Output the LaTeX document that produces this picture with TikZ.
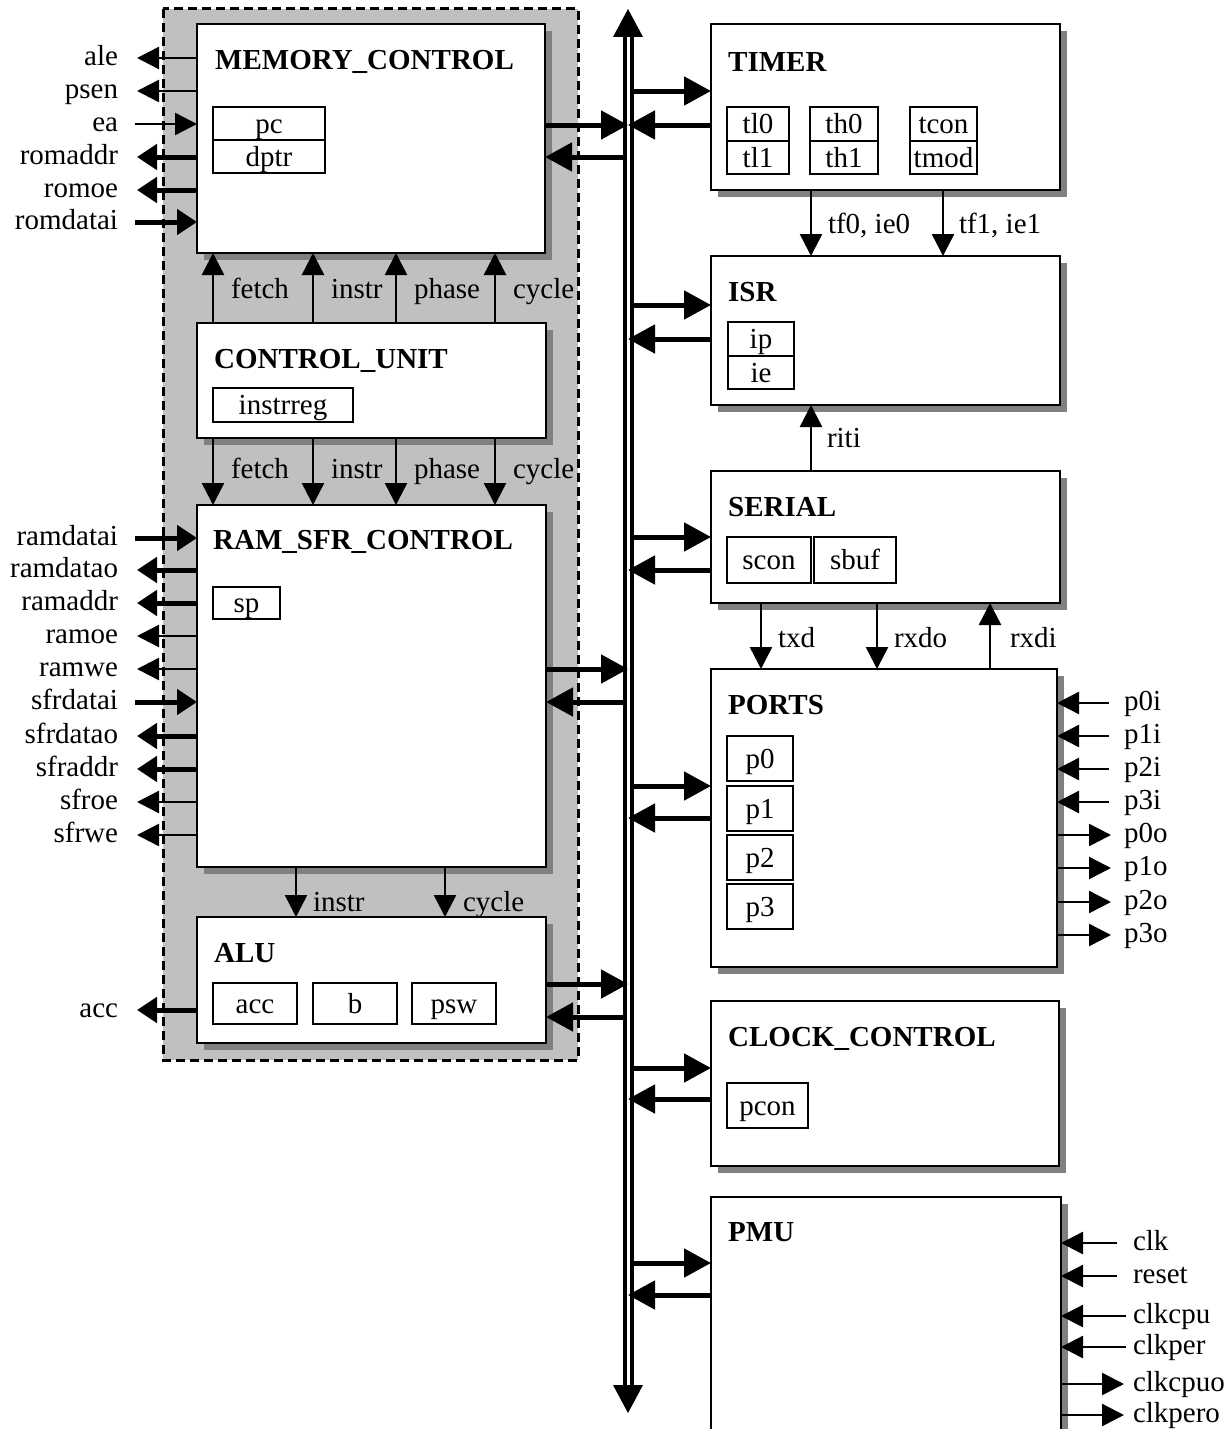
\documentclass[tikz,border=0pt]{standalone}
\usepackage{fontspec}
\setmainfont{Liberation Serif}
\usetikzlibrary{arrows.meta}
\definecolor{contgray}{HTML}{C0C0C0}
\definecolor{shadgray}{HTML}{808080}
\tikzset{
  blk/.style={draw, fill=white, line width=2.5pt, inner sep=0pt, outer sep=0pt, anchor=north west},
  regbox/.style={draw, fill=white, line width=2pt, inner sep=0pt, outer sep=0pt, anchor=north west,
     text height=22pt, text depth=3pt, font=\fontsize{29}{34}\selectfont},
  ttl/.style={anchor=base west, inner sep=0pt, font=\fontsize{29}{34}\selectfont\bfseries},
  lbl/.style={inner sep=0pt, outer sep=0pt, text height=19pt, text depth=4pt, font=\fontsize{29}{34}\selectfont},
  sigthin/.style={line width=2.5pt, -{Triangle[length=22pt,width=22pt]}},
  sigthick/.style={line width=5pt, -{Triangle[length=20pt,width=25pt]}},
  busarr/.style={line width=5pt, -{Triangle[length=27pt,width=28pt]}},
}
\newcommand\mkblk[5]{%
  \fill[shadgray] (#2+7,#3+7) rectangle (#4+7,#5+7);
  \node[blk, minimum width={(#4-#2)*1pt}, minimum height={(#5-#3)*1pt}] (#1) at (#2,#3) {};}
\newcommand\mkreg[6]{%
  \node[regbox, minimum width={#4*1pt}, minimum height={#5*1pt}] (#1) at (#2,#3) {#6};}
\begin{document}
\begin{tikzpicture}[x=1pt,y=-1pt]
\path[use as bounding box] (0,0) rectangle (1231,1429);
\clip (0,0) rectangle (1231,1429);
\fill[white] (0,0) rectangle (1231,1429);

% container
\fill[contgray] (163,9) rectangle (578,1060);
\draw[line width=3pt, dash pattern=on 9pt off 5pt] (163,9) rectangle (578,1060);

% blocks
\mkblk{mem}{197}{24}{545}{253}
\mkblk{cu}{197}{323}{546}{438}
\mkblk{ram}{197}{505}{546}{867}
\mkblk{alu}{197}{917}{546}{1043}
\mkblk{timer}{711}{24}{1060}{190}
\mkblk{isr}{711}{256}{1060}{405}
\mkblk{serial}{711}{471}{1060}{603}
\mkblk{ports}{711}{669}{1057}{967}
\mkblk{clock}{711}{1001}{1059}{1166}
\mkblk{pmu}{711}{1197}{1061}{1460}

% titles
\node[ttl] (t-mem) at (215,70) {MEMORY\_CONTROL};
\node[ttl] (t-cu) at (214,368) {CONTROL\_UNIT};
\node[ttl] (t-ram) at (213,549) {RAM\_SFR\_CONTROL};
\node[ttl] (t-alu) at (214,962) {ALU};
\node[ttl] (t-timer) at (728,71) {TIMER};
\node[ttl] (t-isr) at (728,301) {ISR};
\node[ttl] (t-serial) at (728,516) {SERIAL};
\node[ttl] (t-ports) at (728,714) {PORTS};
\node[ttl] (t-clock) at (728,1046) {CLOCK\_CONTROL};
\node[ttl] (t-pmu) at (728,1241) {PMU};

% registers
\mkreg{pc}{213}{107}{112}{33}{pc}
\mkreg{dptr}{213}{140}{112}{33}{dptr}
\mkreg{instrreg}{213}{388}{140}{34}{instrreg}
\mkreg{sp}{213}{587}{67}{32}{sp}
\mkreg{acc}{213}{983}{84}{41}{acc}
\mkreg{b}{313}{983}{84}{41}{b}
\mkreg{psw}{412}{983}{84}{41}{psw}
\mkreg{tl0}{727}{107}{62}{34}{tl0}
\mkreg{tl1}{727}{141}{62}{33}{tl1}
\mkreg{th0}{810}{107}{68}{34}{th0}
\mkreg{th1}{810}{141}{68}{33}{th1}
\mkreg{tcon}{910}{107}{67}{34}{tcon}
\mkreg{tmod}{910}{141}{67}{33}{tmod}
\mkreg{ip}{728}{322}{66}{34}{ip}
\mkreg{ie}{728}{356}{66}{33}{ie}
\mkreg{scon}{727}{537}{84}{46}{scon}
\mkreg{sbuf}{814}{537}{82}{46}{sbuf}
\mkreg{p0}{727}{736}{66}{45}{p0}
\mkreg{p1}{727}{786}{66}{45}{p1}
\mkreg{p2}{727}{835}{66}{45}{p2}
\mkreg{p3}{727}{884}{66}{45}{p3}
\mkreg{pcon}{727}{1083}{81}{45}{pcon}

% bus
\coordinate (bus) at (628,0);
\coordinate (busL) at (624.5,0);
\coordinate (busR) at (631.5,0);
\coordinate (busT) at (628,9);
\coordinate (busB) at (628,1413);
\draw[line width=4pt] (624.5,36) -- (624.5,1387);
\draw[line width=4pt] (631.5,36) -- (631.5,1387);
\fill (busT) -- ++(15,28) -- ++(-30,0) -- cycle;
\fill (busB) -- ++(15,-28) -- ++(-30,0) -- cycle;

% bus connectors (left side)
\draw[busarr] (mem.east |- 0,125) -- (bus |- 0,125);
\draw[busarr] (busL |- 0,157) -- (mem.east |- 0,157);
\draw[busarr] (ram.east |- 0,669) -- (bus |- 0,669);
\draw[busarr] (busL |- 0,702) -- (ram.east |- 0,702);
\draw[busarr] (alu.east |- 0,984) -- (bus |- 0,984);
\draw[busarr] (busL |- 0,1017) -- (alu.east |- 0,1017);
% bus connectors (right side)
\draw[busarr] (busR |- 0,91) -- (timer.west |- 0,91);
\draw[busarr] (timer.west |- 0,125) -- (bus |- 0,125);
\draw[busarr] (busR |- 0,305) -- (isr.west |- 0,305);
\draw[busarr] (isr.west |- 0,339) -- (bus |- 0,339);
\draw[busarr] (busR |- 0,537) -- (serial.west |- 0,537);
\draw[busarr] (serial.west |- 0,570) -- (bus |- 0,570);
\draw[busarr] (busR |- 0,786) -- (ports.west |- 0,786);
\draw[busarr] (ports.west |- 0,818) -- (bus |- 0,818);
\draw[busarr] (busR |- 0,1068) -- (clock.west |- 0,1068);
\draw[busarr] (clock.west |- 0,1099) -- (bus |- 0,1099);
\draw[busarr] (busR |- 0,1263) -- (pmu.west |- 0,1263);
\draw[busarr] (pmu.west |- 0,1295) -- (bus |- 0,1295);

% internal control signals
\foreach \dx/\txt in {16/fetch,116/instr,199/phase,298/cycle}{
  \draw[sigthin] ([xshift=\dx pt]cu.north west) -- ([xshift=\dx pt]mem.south west);
  \node[lbl, anchor=west] at ([xshift=\dx pt+18pt, yshift=-38pt]mem.south west) {\txt};
  \draw[sigthin] ([xshift=\dx pt]cu.south west) -- ([xshift=\dx pt]ram.north west);
  \node[lbl, anchor=west] at ([xshift=\dx pt+18pt, yshift=-33pt]cu.south west) {\txt};
}
\draw[sigthin] ([xshift=99pt]ram.south west) -- ([xshift=99pt]alu.north west);
\node[lbl, anchor=west] (l-instr2) at (313,904) {instr};
\draw[sigthin] ([xshift=248pt]ram.south west) -- ([xshift=248pt]alu.north west);
\node[lbl, anchor=west] (l-cycle2) at (463,904) {cycle};

\draw[sigthin] ([xshift=100pt]timer.south west) -- ([xshift=100pt]isr.north west);
\node[lbl, anchor=west] (l-tf0) at (828,226) {tf0, ie0};
\draw[sigthin] ([xshift=232pt]timer.south west) -- ([xshift=232pt]isr.north west);
\node[lbl, anchor=west] (l-tf1) at (959,226) {tf1, ie1};
\draw[sigthin] ([xshift=100pt]serial.north west) -- ([xshift=100pt]isr.south west);
\node[lbl, anchor=west] (l-riti) at (827,440) {riti};
\draw[sigthin] ([xshift=50pt]serial.south west) -- ([xshift=50pt]ports.north west);
\node[lbl, anchor=west] (l-txd) at (778,640) {txd};
\draw[sigthin] ([xshift=166pt]serial.south west) -- ([xshift=166pt]ports.north west);
\node[lbl, anchor=west] (l-rxdo) at (894,640) {rxdo};
\draw[sigthin] ([xshift=279pt]ports.north west) -- ([xshift=279pt]serial.south west);
\node[lbl, anchor=west] (l-rxdi) at (1010,640) {rxdi};

% left signals: memory control
\foreach \nm/\yy/\kind/\dir in {ale/58/sigthin/o, psen/91/sigthin/o, ea/124/sigthin/i,
   romaddr/157/sigthick/o, romoe/190/sigthick/o, romdatai/222/sigthick/i}{
  \node[lbl, anchor=east] (l-\nm) at (118,\yy) {\nm};
  \if\dir o
    \draw[\kind] (mem.west |- l-\nm) -- ([xshift=19pt]l-\nm.east);
  \else
    \draw[\kind] ([xshift=17pt]l-\nm.east) -- (mem.west |- l-\nm);
  \fi
}
% left signals: ram/sfr control
\foreach \nm/\yy/\kind/\dir in {ramdatai/538/sigthick/i, ramdatao/570/sigthick/o, ramaddr/603/sigthick/o,
   ramoe/636/sigthin/o, ramwe/669/sigthin/o, sfrdatai/702/sigthick/i, sfrdatao/736/sigthick/o,
   sfraddr/769/sigthick/o, sfroe/802/sigthin/o, sfrwe/835/sigthin/o}{
  \node[lbl, anchor=east] (l-\nm) at (118,\yy) {\nm};
  \if\dir o
    \draw[\kind] (ram.west |- l-\nm) -- ([xshift=19pt]l-\nm.east);
  \else
    \draw[\kind] ([xshift=17pt]l-\nm.east) -- (ram.west |- l-\nm);
  \fi
}
% alu acc
\node[lbl, anchor=east] (l-accout) at (118,1010) {acc};
\draw[sigthick] (alu.west |- l-accout) -- ([xshift=19pt]l-accout.east);

% ports right signals
\foreach \nm/\yy in {p0i/703, p1i/736, p2i/769, p3i/802}{
  \node[lbl, anchor=west] (l-\nm) at (1124,\yy) {\nm};
  \draw[sigthin] ([xshift=-15pt]l-\nm.west) -- (ports.east |- l-\nm);
}
\foreach \nm/\yy in {p0o/835, p1o/868, p2o/902, p3o/935}{
  \node[lbl, anchor=west] (l-\nm) at (1124,\yy) {\nm};
  \draw[sigthin] (ports.east |- l-\nm) -- ([xshift=-13pt]l-\nm.west);
}

% pmu right signals
\foreach \nm/\yy/\gap in {clk/1243/16, reset/1276/16, clkcpu/1316/7, clkper/1347/7}{
  \node[lbl, anchor=west] (l-\nm) at (1133,\yy) {\nm};
  \draw[sigthin] ([xshift=-\gap pt]l-\nm.west) -- (pmu.east |- l-\nm);
}
\foreach \nm/\yy in {clkcpuo/1384, clkpero/1415}{
  \node[lbl, anchor=west] (l-\nm) at (1133,\yy) {\nm};
  \draw[sigthin] (pmu.east |- l-\nm) -- ([xshift=-9pt]l-\nm.west);
}
\end{tikzpicture}
\end{document}
